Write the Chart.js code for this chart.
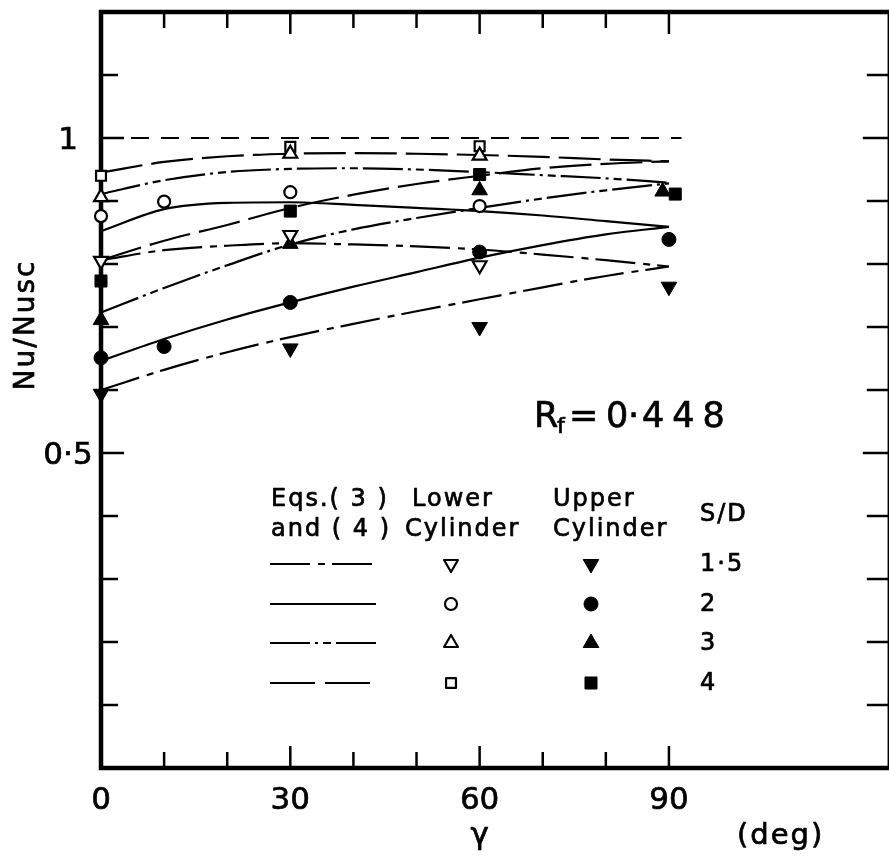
<!DOCTYPE html>
<html>
<head>
<meta charset="utf-8">
<script src="https://cdn.jsdelivr.net/npm/chart.js@4.4.1/dist/chart.umd.min.js"></script>
<style>
  html, body { margin: 0; padding: 0; background: #fff; overflow: hidden; }
  #wrap { width: 900px; height: 864px; }
</style>
</head>
<body>
<div id="wrap"><canvas id="chart" width="900" height="864"></canvas></div>
<script>
// gamma (deg) where the Eqs.(3),(4) curves are read
const gammaFit = [0, 10, 20, 30, 40, 50, 60, 70, 80, 90];

// Eqs.(3) and (4), lower cylinder
const lowerFit15 = [0.806, 0.822, 0.829, 0.833, 0.831, 0.828, 0.823, 0.815, 0.806, 0.796];
const lowerFit2  = [0.852, 0.887, 0.897, 0.898, 0.894, 0.889, 0.884, 0.877, 0.868, 0.859];
const lowerFit3  = [0.911, 0.933, 0.946, 0.951, 0.952, 0.950, 0.946, 0.941, 0.936, 0.929];
const lowerFit4  = [0.945, 0.962, 0.971, 0.975, 0.976, 0.975, 0.973, 0.970, 0.966, 0.963];

// Eqs.(3) and (4), upper cylinder
const upperFit15 = [0.600, 0.632, 0.660, 0.684, 0.705, 0.725, 0.744, 0.763, 0.781, 0.796];
const upperFit2  = [0.646, 0.681, 0.712, 0.739, 0.764, 0.787, 0.810, 0.830, 0.847, 0.859];
const upperFit3  = [0.723, 0.762, 0.798, 0.831, 0.855, 0.873, 0.889, 0.904, 0.917, 0.928];
const upperFit4  = [0.806, 0.837, 0.862, 0.889, 0.910, 0.927, 0.940, 0.952, 0.959, 0.963];

// measured, lower cylinder (open symbols)
const lowerGamma15 = [0, 30, 60];      const lower15 = [0.805, 0.846, 0.798];
const lowerGamma2  = [0, 10, 30, 60];  const lower2  = [0.876, 0.899, 0.914, 0.892];
const lowerGamma3  = [0, 30, 60];      const lower3  = [0.906, 0.975, 0.972];
const lowerGamma4  = [0, 30, 60];      const lower4  = [0.940, 0.986, 0.987];

// measured, upper cylinder (filled symbols)
const upperGamma15 = [0, 30, 60, 90];      const upper15 = [0.594, 0.666, 0.700, 0.764];
const upperGamma2  = [0, 10, 30, 60, 90];  const upper2  = [0.651, 0.669, 0.739, 0.819, 0.839];
const upperGamma3  = [0, 30, 60, 89];      const upper3  = [0.711, 0.832, 0.917, 0.915];
const upperGamma4  = [0, 30, 60, 91];      const upper4  = [0.773, 0.884, 0.942, 0.911];

// reference line Nu/Nusc = 1
const refGamma = [0, 92];
const refValue = [1, 1];

const sdLabels = ['1·5', '2', '3', '4'];

const xTickValues = [0, 30, 60, 90];
const xTickLabels = ['0', '30', '60', '90'];
const xTickMarks = [10, 20, 30, 40, 50, 60, 70, 80, 90];
const yTickValues = [0.5, 1];
const yTickLabels = ['0·5', '1'];
const yTickMarks = [0.1, 0.2, 0.3, 0.4, 0.5, 0.6, 0.7, 0.8, 0.9, 1.0, 1.1];

const FONT = '"DejaVu Sans", "Liberation Sans", sans-serif';

function pts(xs, ys) {
  return xs.map((x, i) => ({ x: x, y: ys[i] }));
}

// one entry per S/D: line dash (plot and legend) and symbol
const styles = [
  { dash: [40, 8, 7, 7], key: [40, 8, 7, 7], shape: 'triangle', rot: 180, rOpen: 8, rFill: 9 },
  { dash: [], key: [], shape: 'circle', rot: 0, rOpen: 6, rFill: 7 },
  { dash: [40, 5, 3, 5, 8, 5], key: [40, 5, 3, 5, 8, 5], shape: 'triangle', rot: 0, rOpen: 8, rFill: 9 },
  { dash: [42, 9], key: [45, 10], shape: 'rect', rot: 0, rOpen: 7, rFill: 8.5 }
];
const lowerFits = [lowerFit15, lowerFit2, lowerFit3, lowerFit4];
const upperFits = [upperFit15, upperFit2, upperFit3, upperFit4];
const lowerGammas = [lowerGamma15, lowerGamma2, lowerGamma3, lowerGamma4];
const lowerVals = [lower15, lower2, lower3, lower4];
const upperGammas = [upperGamma15, upperGamma2, upperGamma3, upperGamma4];
const upperVals = [upper15, upper2, upper3, upper4];

const datasets = [];
styles.forEach((s, i) => {
  [lowerFits[i], upperFits[i]].forEach(fit => {
    datasets.push({
      data: pts(gammaFit, fit),
      showLine: true,
      borderColor: '#000',
      borderWidth: 2.2,
      borderDash: s.dash,
      pointRadius: 0,
      cubicInterpolationMode: 'monotone',
      fill: false,
      clip: false,
      order: 2
    });
  });
  datasets.push({
    data: pts(lowerGammas[i], lowerVals[i]),
    showLine: false,
    pointStyle: s.shape,
    pointRotation: s.rot,
    pointRadius: s.rOpen,
    pointBackgroundColor: '#fff',
    pointBorderColor: '#000',
    pointBorderWidth: 2.2,
    clip: false,
    order: 0
  });
  datasets.push({
    data: pts(upperGammas[i], upperVals[i]),
    showLine: false,
    pointStyle: s.shape,
    pointRotation: s.rot,
    pointRadius: s.rFill,
    pointBackgroundColor: '#000',
    pointBorderColor: '#000',
    pointBorderWidth: 1,
    clip: false,
    order: 0
  });
});
datasets.push({
  data: pts(refGamma, refValue),
  showLine: true,
  borderColor: '#000',
  borderWidth: 2.2,
  borderDash: [18, 12],
  pointRadius: 0,
  clip: false,
  order: 3
});

function seg(ctx, x1, y1, x2, y2) {
  ctx.beginPath();
  ctx.moveTo(x1, y1);
  ctx.lineTo(x2, y2);
  ctx.stroke();
}

// fill plus a thin stroke, the scanned lettering is a bit heavier than DejaVu
function txt(ctx, s, x, y) {
  ctx.fillText(s, x, y);
  ctx.strokeText(s, x, y);
}

const framePlugin = {
  id: 'frame',
  beforeDatasetsDraw(chart) {
    const { ctx, chartArea: a, scales: { x, y } } = chart;
    ctx.save();
    ctx.strokeStyle = '#000';
    ctx.lineWidth = 2.5;
    xTickMarks.forEach(v => {
      const px = x.getPixelForValue(v);
      const len = xTickValues.includes(v) ? 22 : 16;
      seg(ctx, px, a.bottom, px, a.bottom - len);
      seg(ctx, px, a.top, px, a.top + len);
    });
    yTickMarks.forEach(v => {
      const py = y.getPixelForValue(v);
      const big = yTickValues.some(t => Math.abs(t - v) < 1e-9);
      seg(ctx, a.left, py, a.left + (big ? 23 : 17), py);
      seg(ctx, a.right, py, a.right - (big ? 27 : 23), py);
    });
    ctx.lineWidth = 4.5;
    ctx.strokeRect(a.left, a.top, a.right - a.left, a.bottom - a.top);
    ctx.restore();
  },
  afterDraw(chart) {
    const { ctx, chartArea: a, scales: { x, y } } = chart;
    ctx.save();
    ctx.fillStyle = '#000';
    ctx.strokeStyle = '#000';
    ctx.lineWidth = 0.7;
    ctx.lineJoin = 'round';

    // tick labels
    ctx.font = '31px ' + FONT;
    ctx.textAlign = 'center';
    ctx.textBaseline = 'middle';
    xTickValues.forEach((v, i) => txt(ctx, xTickLabels[i], x.getPixelForValue(v), a.bottom + 33));
    yTickValues.forEach((v, i) => txt(ctx, yTickLabels[i], a.left - 33, y.getPixelForValue(v) + 3));

    // axis titles
    txt(ctx, 'γ', x.getPixelForValue(60), 836);
    ctx.font = '29px ' + FONT;
    ctx.letterSpacing = '2px';
    ctx.textAlign = 'left';
    txt(ctx, '(deg)', 737, 836);
    ctx.save();
    ctx.translate(27, 325);
    ctx.rotate(-Math.PI / 2);
    ctx.textAlign = 'center';
    ctx.font = '28px ' + FONT;
    ctx.letterSpacing = '2px';
    txt(ctx, 'Nu/Nusc', 0, 0);
    ctx.restore();

    // Rf = 0.448
    ctx.textBaseline = 'alphabetic';
    ctx.letterSpacing = '0px';
    ctx.font = '35px ' + FONT;
    txt(ctx, 'R', 534, 427);
    txt(ctx, '=', 569, 427);
    txt(ctx, '0', 606, 427);
    txt(ctx, '·', 628, 427);
    ctx.letterSpacing = '8px';
    txt(ctx, '448', 642, 427);
    ctx.letterSpacing = '0px';
    ctx.font = '22px ' + FONT;
    txt(ctx, 'f', 557, 433);

    // legend
    ctx.font = '24px ' + FONT;
    ctx.letterSpacing = '2px';
    txt(ctx, 'Eqs.( 3 )', 271, 506);
    txt(ctx, 'and ( 4 )', 271, 536);
    txt(ctx, 'Lower', 412, 506);
    txt(ctx, 'Cylinder', 405, 536);
    txt(ctx, 'Upper', 553, 506);
    txt(ctx, 'Cylinder', 553, 536);
    txt(ctx, 'S/D', 700, 521);
    const rows = [564, 604, 643, 683];
    styles.forEach((s, i) => {
      const ry = rows[i];
      ctx.lineWidth = 2.2;
      ctx.setLineDash(s.key);
      seg(ctx, 270, ry, 376, ry);
      ctx.setLineDash([]);
      ctx.fillStyle = '#fff';
      ctx.lineWidth = 2.2;
      Chart.helpers.drawPoint(ctx, { pointStyle: s.shape, rotation: s.rot, borderWidth: 2.2, radius: s.rOpen }, 451, ry);
      ctx.fillStyle = '#000';
      ctx.lineWidth = 1;
      Chart.helpers.drawPoint(ctx, { pointStyle: s.shape, rotation: s.rot, borderWidth: 1, radius: s.rFill }, 591, ry);
      ctx.lineWidth = 0.7;
      ctx.textBaseline = 'middle';
      txt(ctx, sdLabels[i], 700, ry + 1);
      ctx.textBaseline = 'alphabetic';
    });
    ctx.restore();
  }
};

new Chart(document.getElementById('chart'), {
  type: 'scatter',
  data: { datasets: datasets },
  options: {
    responsive: false,
    animation: false,
    events: [],
    layout: { padding: { left: 101, right: 4, top: 12, bottom: 96 } },
    scales: {
      x: { type: 'linear', min: 0, max: 125, display: false },
      y: { type: 'linear', min: 0, max: 1.2, display: false }
    },
    plugins: { legend: { display: false }, tooltip: { enabled: false } }
  },
  plugins: [framePlugin]
});
</script>
</body>
</html>
